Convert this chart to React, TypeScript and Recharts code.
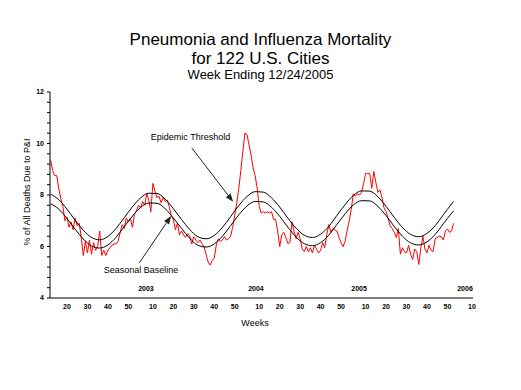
import { LineChart, Line, XAxis, YAxis, ReferenceLine, ReferenceDot } from 'recharts';

const FONT = '"Liberation Sans", Arial, sans-serif';

// weekly % of deaths due to P&I; week index counts from 2002 week 1 = 1
const firstWeek = 12;
const piPercent = [
  9.35, 8.95, 8.75, 8.75, 8.25, 7.85, 7.55, 7.0, 7.15, 6.75,
  6.95, 6.65, 7.1, 6.8, 6.9, 6.35, 5.65, 6.2, 5.75, 6.25,
  5.7, 6.15, 5.85, 6.0, 6.6, 5.65, 5.85, 5.65, 5.85, 5.95,
  6.05, 6.1, 6.1, 6.2, 6.55, 6.85, 6.7, 7.1, 6.95, 7.1,
  6.75, 7.25, 7.4, 7.6, 7.5, 7.75, 7.6, 8.05, 7.8, 7.35,
  8.45, 8.15, 7.9, 7.95, 7.7, 7.9, 7.75, 7.8, 7.55, 7.2,
  7.05, 6.65, 6.9, 6.45, 6.6, 6.45, 6.35, 6.5, 6.4, 6.1,
  6.38, 6.25, 6.15, 6.25, 6.1, 6.0, 5.7, 5.4, 5.28, 5.45,
  5.55, 6.05, 6.3, 6.2, 6.25, 6.38, 6.25, 6.3, 6.4, 6.75,
  7.2, 7.7, 8.25, 8.95, 9.7, 10.4, 10.35, 9.95, 9.55, 9.05,
  8.75, 8.25, 7.55, 7.3, 7.35, 7.3, 7.35, 7.3, 7.35, 7.05,
  7.05, 6.6, 6.0, 6.45, 6.55, 6.35, 6.12, 6.15, 6.96, 6.6,
  6.3, 6.55, 6.3, 5.9, 5.8, 6.0, 5.8, 5.95, 5.75, 6.05,
  5.9, 5.75, 5.85, 6.15, 5.95, 6.45, 6.85, 6.55, 6.7, 6.64,
  6.6, 6.35, 6.15, 6.0, 6.2, 6.64, 7.0, 7.45, 8.05, 7.95,
  8.05, 8.0, 8.1, 8.45, 8.84, 8.84, 8.84, 8.26, 8.91, 8.5,
  8.1, 8.2, 7.9, 7.5, 7.35, 7.1, 6.8, 6.7, 6.55, 6.35,
  6.7, 5.7, 5.95, 5.8, 5.75, 6.05, 5.7, 5.5, 5.9, 5.8,
  5.3, 5.95, 6.4, 5.9, 5.75, 6.05, 5.85, 5.8, 6.3, 6.35,
  6.4, 6.38, 6.25, 6.6, 6.68, 6.55, 6.6, 6.9,
];

const curveWeeks = [
  12, 16, 20, 24, 28, 32, 36, 40, 44, 48, 52, 56, 60, 64, 68, 72, 76, 80, 84, 88,
  92, 96, 100, 104, 108, 112, 116, 120, 124, 128, 132, 136, 140, 144, 148, 152,
  156, 160, 164, 168, 172, 176, 180, 184, 188, 192, 196, 200, 204, 208, 209,
];
const baselineValues = [
  7.66, 7.45, 7.09, 6.67, 6.29, 6.02, 5.94, 6.06, 6.36, 6.77, 7.18, 7.52, 7.69,
  7.68, 7.47, 7.11, 6.7, 6.32, 6.05, 5.98, 6.1, 6.4, 6.81, 7.23, 7.57, 7.75,
  7.73, 7.52, 7.17, 6.75, 6.37, 6.11, 6.03, 6.15, 6.44, 6.86, 7.27, 7.61, 7.78,
  7.77, 7.56, 7.2, 6.78, 6.4, 6.14, 6.06, 6.18, 6.47, 6.88, 7.29, 7.38,
];
const thresholdValues = [
  8.03, 7.82, 7.45, 7.02, 6.63, 6.35, 6.26, 6.39, 6.7, 7.12, 7.54, 7.89, 8.07,
  8.06, 7.84, 7.47, 7.05, 6.66, 6.38, 6.3, 6.43, 6.74, 7.16, 7.59, 7.94, 8.13,
  8.11, 7.89, 7.53, 7.1, 6.71, 6.44, 6.35, 6.48, 6.78, 7.21, 7.63, 7.98, 8.16,
  8.15, 7.93, 7.56, 7.13, 6.74, 6.47, 6.38, 6.51, 6.81, 7.23, 7.65, 7.75,
];

const weekTicks = [20, 30, 40, 50, 62, 72, 82, 92, 102, 114, 124, 134, 144, 154, 166, 176, 186, 196, 206, 218];
const yTicks = [4, 4.4, 4.8, 5.2, 5.6, 6, 6.4, 6.8, 7.2, 7.6, 8, 8.4, 8.8, 9.2, 9.6, 10, 10.4, 10.8, 11.2, 11.6, 12];
const yLabelled = [4, 6, 8, 10, 12];
const yearLabels = ['2003', '2004', '2005', '2006'];
const yearLabelWeeks = [58.6, 112.4, 162.8, 214.6];

const rows = new Map<number, any>();
piPercent.forEach((v, i) => rows.set(firstWeek + i, { week: firstWeek + i, pi: v }));
curveWeeks.forEach((w, i) => {
  const r = rows.get(w) ?? { week: w };
  r.baseline = baselineValues[i];
  r.threshold = thresholdValues[i];
  rows.set(w, r);
});
const data = [...rows.values()].sort((a, b) => a.week - b.week);

const Arrow = (props: any) => {
  const { x1, y1, x2, y2 } = props;
  const ang = Math.atan2(y2 - y1, x2 - x1);
  const c = Math.cos(ang);
  const s = Math.sin(ang);
  const bx = x2 - 8 * c;
  const by = y2 - 8 * s;
  return (
    <g>
      <line x1={x1} y1={y1} x2={bx} y2={by} stroke="#222" strokeWidth={1} />
      <polygon
        points={`${x2},${y2} ${bx - 3 * s},${by + 3 * c} ${bx + 3 * s},${by - 3 * c}`}
        fill="#222"
      />
    </g>
  );
};

const YTick = (props: any) => {
  const { x, y, payload } = props;
  const v = payload.value;
  const labelled = yLabelled.some((l) => Math.abs(l - v) < 0.01);
  return (
    <g>
      <line x1={x - 3} y1={y} x2={x} y2={y} stroke="#000" />
      {labelled && (
        <text x={x - 6} y={y} dy="0.35em" textAnchor="end" fontSize={7} fontWeight="bold" fontFamily={FONT} fill="#000">
          {v}
        </text>
      )}
    </g>
  );
};

const noteLabel = (value: string, size = 9, bold = false) => ({
  value,
  position: 'center' as const,
  fontSize: size,
  fontWeight: bold ? 'bold' : 'normal',
  fontFamily: FONT,
  fill: '#000',
});

export default function App() {
  return (
    <div style={{ position: 'absolute', left: 0, top: 0, width: 521, height: 390, background: '#fff', fontFamily: FONT }}>
      <div style={{ position: 'absolute', left: 0, width: 521, top: 30, textAlign: 'center', fontSize: 17, lineHeight: '19px' }}>
        Pneumonia and Influenza Mortality
      </div>
      <div style={{ position: 'absolute', left: 0, width: 521, top: 49, textAlign: 'center', fontSize: 17, lineHeight: '19px' }}>
        for 122 U.S. Cities
      </div>
      <div style={{ position: 'absolute', left: 0, width: 521, top: 67, textAlign: 'center', fontSize: 13, lineHeight: '15px' }}>
        Week Ending 12/24/2005
      </div>
      <div
        style={{
          position: 'absolute',
          left: 27,
          top: 192,
          transform: 'translate(-50%, -50%) rotate(-90deg)',
          whiteSpace: 'nowrap',
          fontSize: 9,
        }}
      >
        % of All Deaths Due to P&amp;I
      </div>
      <div style={{ position: 'absolute', left: 205, width: 100, top: 317, textAlign: 'center', fontSize: 9, lineHeight: '12px' }}>
        Weeks
      </div>
      <LineChart width={521} height={390} data={data} margin={{ top: 92, right: 48, bottom: 62, left: 20 }}>
        <XAxis
          dataKey="week"
          type="number"
          domain={[11.7, 218.5]}
          allowDataOverflow
          ticks={weekTicks}
          interval={0}
          tickFormatter={(w) => String(((w - 1) % 52) + 1)}
          axisLine={{ stroke: '#000' }}
          tickLine={false}
          tickSize={4}
          tickMargin={2}
          height={30}
          tick={{ fontSize: 7, fontWeight: 'bold', fill: '#000', fontFamily: FONT }}
        />
        <YAxis
          type="number"
          domain={[4, 12]}
          allowDataOverflow
          ticks={yTicks}
          interval={0}
          width={30}
          axisLine={{ stroke: '#000' }}
          tickLine={false}
          tickSize={0}
          tickMargin={0}
          tick={<YTick />}
        />
        <Line dataKey="pi" type="linear" stroke="#ff0000" strokeWidth={1} dot={false} isAnimationActive={false} />
        <Line dataKey="threshold" type="monotone" connectNulls stroke="#000" strokeWidth={1} dot={false} isAnimationActive={false} />
        <Line dataKey="baseline" type="monotone" connectNulls stroke="#000" strokeWidth={1} dot={false} isAnimationActive={false} />
        <ReferenceLine segment={[{ x: 81, y: 9.83 }, { x: 101.2, y: 7.74 }]} shape={Arrow} />
        <ReferenceLine segment={[{ x: 55.4, y: 5.37 }, { x: 70.9, y: 7.18 }]} shape={Arrow} />
        <ReferenceDot x={80.4} y={10.25} r={0} fill="none" stroke="none" label={noteLabel('Epidemic Threshold')} />
        <ReferenceDot x={56.2} y={5.09} r={0} fill="none" stroke="none" label={noteLabel('Seasonal Baseline')} />
        {yearLabels.map((yr, i) => (
          <ReferenceDot key={yr} x={yearLabelWeeks[i]} y={4.35} r={0} fill="none" stroke="none" label={noteLabel(yr, 7, true)} />
        ))}
      </LineChart>
    </div>
  );
}
